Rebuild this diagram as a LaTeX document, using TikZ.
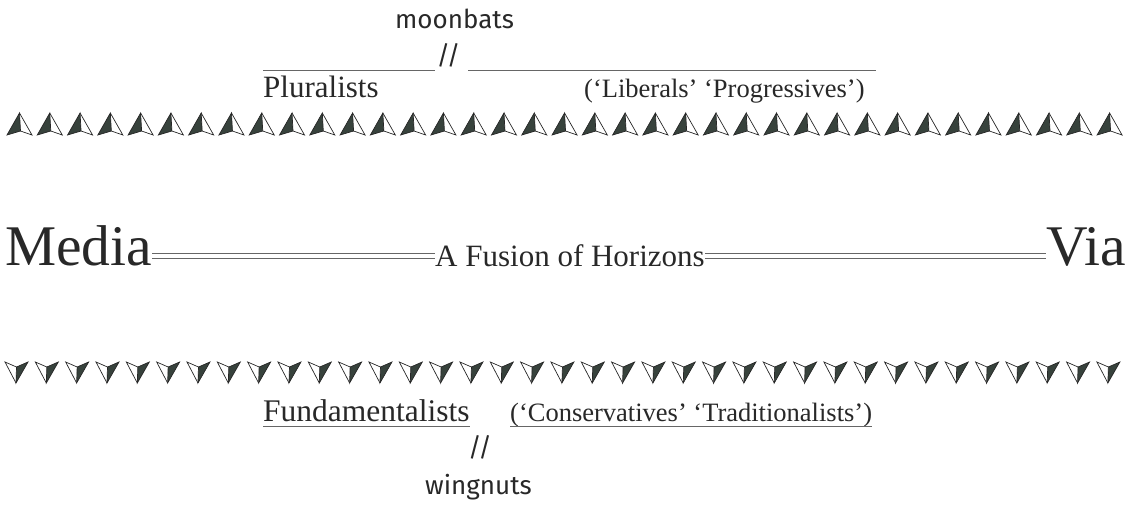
\documentclass[tikz,border=0pt]{standalone}
\usepackage{fontspec}
\setmainfont{Liberation Serif}
\newfontfamily\handfont{Fira Sans}
\definecolor{arrowdark}{RGB}{55,66,60}
\definecolor{inkgray}{RGB}{40,40,40}
\begin{document}
\begin{tikzpicture}[
    x=1pt, y=-1pt,
    word/.style={inner sep=0pt, anchor=base west, text=inkgray},
    hand/.style={word, font=\handfont\fontsize{26}{30}\selectfont},
    camp/.style={word, font=\fontsize{31}{34}\selectfont},
    aside/.style={word, font=\fontsize{26.5}{30}\selectfont},
    big/.style={word, font=\fontsize{57.5}{60}\selectfont},
    rule/.style={draw=black!60, line width=1pt},
    eqline/.style={draw=black!60, line width=1pt}
]
\useasboundingbox (0,0) rectangle (1130,504);

% upper side
\node[hand] (moon) at (395,28) {moonbats};
\node[hand, anchor=center] (slashtop) at (448.5,55) {//};
\node[camp] (plur) at (263,97) {Pluralists};
\node[aside] (lib) at (584,97) {(‘Liberals’ ‘Progressives’)};
\coordinate (ruleA) at (263,70);
\coordinate (ruleB) at (435,70);
\coordinate (ruleC) at (468,70);
\coordinate (ruleD) at (876,70);
\draw[rule] (ruleA) -- (ruleB);
\draw[rule] (ruleC) -- (ruleD);

\foreach \i in {0,...,36}{
  \pgfmathsetmacro{\ux}{7+30.28*\i}
  \filldraw[fill=arrowdark, draw=black!85, line width=0.7pt, shift={(\ux,113)}]
    (12.5,0) -- (0,22) -- (13.5,18) -- cycle;
  \draw[black!85, line width=0.7pt, shift={(\ux,113)}]
    (12.5,0) -- (25,22) -- (13.5,18);
}

% middle line
\node[big] (media) at (5,265) {Media};
\node[camp] (fusion) at (435,266) {A Fusion of Horizons};
\node[big, anchor=base east] (via) at (1126,265) {Via};
\draw[eqline] (media.east |- 0,253) -- (fusion.west |- 0,253);
\draw[eqline] (media.east |- 0,258) -- (fusion.west |- 0,258);
\draw[eqline] (fusion.east |- 0,253) -- (via.west |- 0,253);
\draw[eqline] (fusion.east |- 0,258) -- (via.west |- 0,258);

% lower side
\foreach \i in {0,...,36}{
  \pgfmathsetmacro{\dx}{5+30.33*\i}
  \filldraw[fill=arrowdark, draw=black!85, line width=0.7pt, shift={(\dx,362)}]
    (11,21) -- (23,0) -- (11.5,5) -- cycle;
  \draw[black!85, line width=0.7pt, shift={(\dx,362)}]
    (11,21) -- (0,0) -- (11.5,5);
}

\node[camp, font=\fontsize{31.5}{34}\selectfont] (fund) at (263,421) {Fundamentalists};
\node[aside] (cons) at (510,421) {(‘Conservatives’ ‘Traditionalists’)};
\draw[rule] (fund.base west |- 0,426) -- (fund.base east |- 0,426);
\draw[rule] (cons.base west |- 0,426) -- (cons.base east |- 0,426);
\node[hand, anchor=center] (slashbot) at (480,447) {//};
\node[hand] (wing) at (425,494) {wingnuts};
\end{tikzpicture}
\end{document}
